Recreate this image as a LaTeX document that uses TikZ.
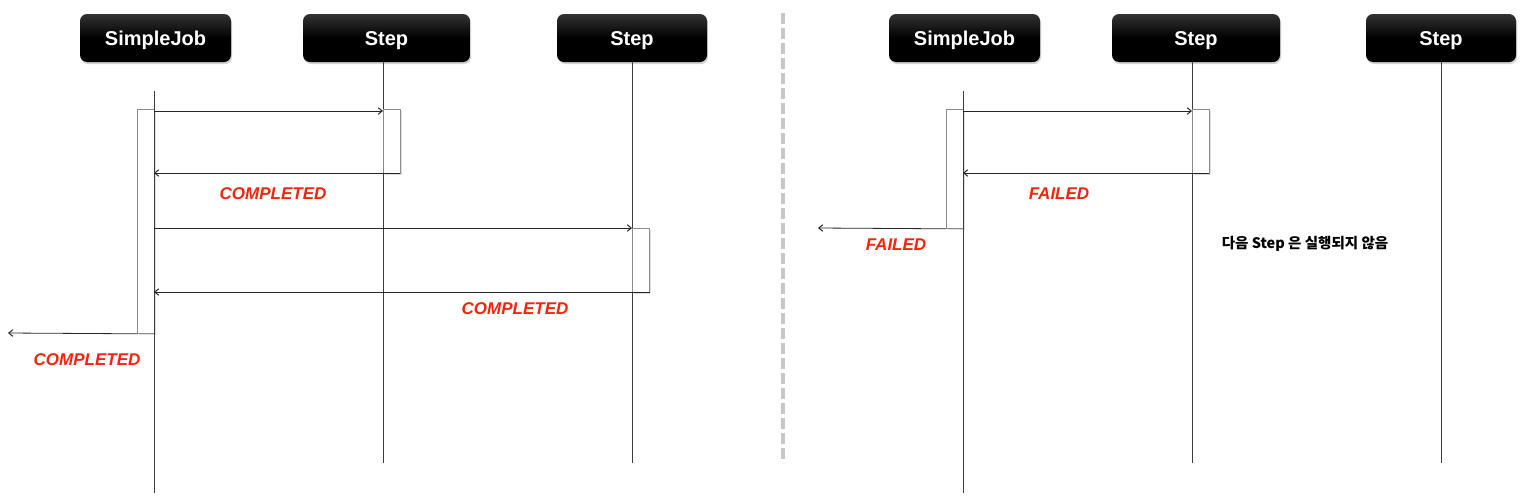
\documentclass[tikz,border=0pt]{standalone}
\usepackage{fontspec}
\setmainfont{Liberation Sans}
\newfontfamily\krfont{Noto Sans CJK KR}
\usetikzlibrary{arrows.meta,shadows}
\definecolor{lblred}{RGB}{250,35,10}
\definecolor{lifegray}{RGB}{60,60,60}
\begin{document}
\begin{tikzpicture}[x=1pt,y=-1pt,
  hdr/.style={rounded corners=7pt, top color=black!80, bottom color=black, middle color=black, draw=none,
    text=white, font=\fontsize{20}{24}\selectfont\bfseries, minimum height=48pt,
    text height=14.4pt, text depth=0pt,
    drop shadow={shadow xshift=1pt, shadow yshift=-2pt, opacity=0.35}},
  life/.style={draw=lifegray, line width=0.8pt},
  act/.style={draw=black!45, fill=white, line width=0.8pt, inner sep=0pt, minimum width=17pt, anchor=north west,
    drop shadow={shadow xshift=2pt, shadow yshift=-2pt, opacity=0.25}},
  msg/.style={draw=black!85, line width=0.8pt, -{Straight Barb[length=4pt,width=6.5pt,line width=1pt]}},
  lbl/.style={text=lblred, font=\fontsize{17}{20}\selectfont\bfseries\itshape},
  note/.style={font=\krfont\bfseries\fontsize{14.5}{18}\selectfont}
]
\useasboundingbox (0,0) rectangle (1531,499);
\fill[white] (0,0) rectangle (1531,499);

% divider
\draw[line width=4pt, black!22, dash pattern=on 11pt off 4pt] (783,13) -- (783,463);

% ---------- left panel ----------
\node[hdr, minimum width=151pt] (sjA) at (155.5,38) {SimpleJob};
\node[hdr, minimum width=167pt] (stA) at (386.5,38) {Step};
\node[hdr, minimum width=150pt] (stB) at (632,38) {Step};

\coordinate (sjAtop) at (154,91);
\coordinate (sjAbot) at (154,493);
\coordinate (stAtop) at (383,62);
\coordinate (stAbot) at (383,463);
\coordinate (stBtop) at (632,62);
\coordinate (stBbot) at (632,463);
\draw[life] (sjAtop) -- (sjAbot);
\draw[life] (stAtop) -- (stAbot);
\draw[life] (stBtop) -- (stBbot);

\node[act, minimum height=224pt] (aSJ) at (137,109) {};
\node[act, minimum height=64pt] (aStA) at (383,109) {};
\node[act, minimum height=64pt] (aStB) at (632,228) {};
\draw[life] (sjAtop) -- (sjAbot);

\coordinate (m1s) at (154,111); \coordinate (m1e) at (383,111);
\coordinate (r1s) at (400,173); \coordinate (r1e) at (154,173);
\coordinate (m2s) at (154,228); \coordinate (m2e) at (632,228);
\coordinate (r2s) at (650,292); \coordinate (r2e) at (154,292);
\coordinate (outA) at (8,333);
\draw[msg] (m1s) -- (m1e);
\draw[msg] (r1s) -- (r1e);
\draw[msg] (m2s) -- (m2e);
\draw[msg] (r2s) -- (r2e);
\draw[msg] (aSJ.south west) -- (outA);

\node[lbl] (lA1) at (273,194) {COMPLETED};
\node[lbl] (lA2) at (515,309) {COMPLETED};
\node[lbl] (lA3) at (87,360) {COMPLETED};

% ---------- right panel ----------
\node[hdr, minimum width=151pt] (sjC) at (964.5,38) {SimpleJob};
\node[hdr, minimum width=168pt] (stC) at (1196,38) {Step};
\node[hdr, minimum width=150pt] (stD) at (1441,38) {Step};

\coordinate (sjCtop) at (963,91);
\coordinate (sjCbot) at (963,493);
\coordinate (stCtop) at (1192,62);
\coordinate (stCbot) at (1192,463);
\coordinate (stDtop) at (1441,62);
\coordinate (stDbot) at (1441,463);
\draw[life] (sjCtop) -- (sjCbot);
\draw[life] (stCtop) -- (stCbot);
\draw[life] (stDtop) -- (stDbot);

\node[act, minimum height=119pt] (aSJC) at (946,109) {};
\node[act, minimum height=64pt] (aStC) at (1192,109) {};
\draw[life] (sjCtop) -- (sjCbot);

\coordinate (m3s) at (963,111); \coordinate (m3e) at (1192,111);
\coordinate (r3s) at (1209,173); \coordinate (r3e) at (963,173);
\coordinate (outC) at (818,228);
\draw[msg] (m3s) -- (m3e);
\draw[msg] (r3s) -- (r3e);
\draw[msg] (aSJC.south west) -- (outC);

\node[lbl] (lC1) at (1059,194) {FAILED};
\node[lbl] (lC2) at (896,245) {FAILED};
\node[note] (nC) at (1305,244) {다음 Step 은 실행되지 않음};
\end{tikzpicture}
\end{document}
